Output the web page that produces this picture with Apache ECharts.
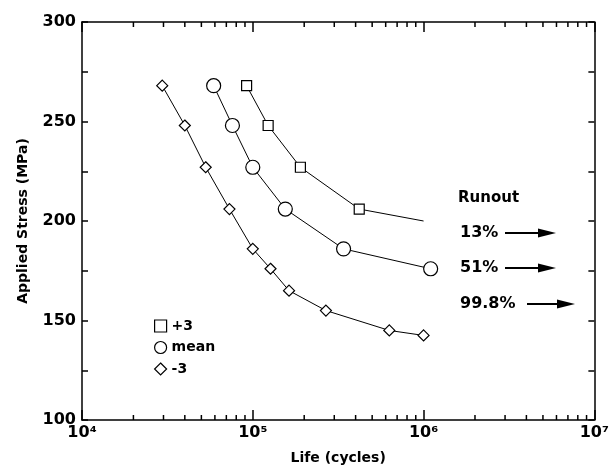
<!DOCTYPE html>
<html>
<head>
<meta charset="utf-8">
<script src="https://cdn.jsdelivr.net/npm/echarts@6/dist/echarts.min.js"></script>
<style>
  html, body { margin: 0; padding: 0; background: #fff; }
  #chart { width: 612px; height: 472px; }
</style>
</head>
<body>
<div id="chart"></div>
<script>
// S-N curves: life (cycles) vs applied stress (MPa)
const plusLife = [9.2e4, 1.23e5, 1.9e5, 4.2e5, 1.0e6];
const plusStress = [268, 248, 227, 206, 200];
const meanLife = [5.9e4, 7.6e4, 1.0e5, 1.55e5, 3.4e5, 1.1e6];
const meanStress = [268, 248, 227, 206, 186, 176];
const minusLife = [2.95e4, 4.0e4, 5.3e4, 7.3e4, 1.0e5, 1.27e5, 1.63e5, 2.68e5, 6.3e5, 1.0e6];
const minusStress = [268, 248, 227, 206, 186, 176, 165, 155, 145, 142.5];

const runoutLabels = ['13%', '51%', '99.8%'];

const minorX = [];
[1e4, 1e5, 1e6].forEach(d => {
  for (let k = 2; k <= 9; k++) minorX.push(k * d);
});

const FONT = 'DejaVu Sans';
const chart = echarts.init(document.getElementById('chart'));

const pair = (xs, ys) => xs.map((x, i) => [x, ys[i]]);
const plusData = pair(plusLife, plusStress).map((p, i) =>
  i === plusLife.length - 1 ? { value: p, symbol: 'none' } : p);

const sup = { 4: '⁴', 5: '⁵', 6: '⁶', 7: '⁷' };

const tickStyle = { color: '#000', width: 1.5 };
const frameLine = { show: true, onZero: false, lineStyle: { color: '#000', width: 1.5 } };

const xCommon = {
  type: 'log',
  min: 1e4,
  max: 1e7,
  splitLine: { show: false },
  axisLine: frameLine,
  axisTick: { show: true, inside: true, length: 10, lineStyle: tickStyle }
};

const yCommon = {
  type: 'value',
  min: 100,
  max: 300,
  interval: 25,
  splitLine: { show: false },
  axisLine: frameLine,
  axisTick: { show: true, inside: true, length: 6, lineStyle: tickStyle }
};

const option = {
  animation: false,
  grid: { left: 82, right: 13, top: 22, bottom: 52 },
  xAxis: [
    Object.assign({}, xCommon, {
      position: 'bottom',
      axisLabel: {
        margin: 5,
        fontFamily: FONT,
        fontWeight: 'bold',
        fontSize: 16,
        color: '#000',
        formatter: v => '10' + sup[Math.round(Math.log10(v))]
      },
      name: 'Life (cycles)',
      nameLocation: 'middle',
      nameGap: 31,
      nameTextStyle: { fontFamily: FONT, fontWeight: 'bold', fontSize: 14, color: '#000' }
    }),
    Object.assign({}, xCommon, {
      position: 'top',
      axisLabel: { show: false }
    })
  ],
  yAxis: [
    Object.assign({}, yCommon, {
      position: 'left',
      axisLabel: {
        margin: 6,
        fontFamily: FONT,
        fontWeight: 'bold',
        fontSize: 16,
        color: '#000',
        formatter: v => (v % 50 === 0 ? String(v) : '')
      },
      name: 'Applied Stress (MPa)',
      nameLocation: 'middle',
      nameGap: 52,
      nameTextStyle: { fontFamily: FONT, fontWeight: 'bold', fontSize: 14, color: '#000' }
    }),
    Object.assign({}, yCommon, {
      position: 'right',
      axisLabel: { show: false }
    })
  ],
  legend: {
    orient: 'vertical',
    left: 149,
    top: 314,
    itemGap: 7.5,
    itemWidth: 12,
    itemHeight: 12,
    textStyle: { fontFamily: FONT, fontWeight: 'bold', fontSize: 14, color: '#000' },
    itemStyle: { color: '#fff', borderColor: '#000', borderWidth: 1.2 },
    data: [
      { name: '+3', icon: 'rect' },
      { name: 'mean', icon: 'circle' },
      { name: '-3', icon: 'diamond' }
    ]
  },
  series: [
    {
      // minor log ticks (2..9 x 10^n) on bottom and top frame
      name: 'minor', type: 'custom', silent: true, clip: false,
      data: minorX.map(v => [v, 100]),
      renderItem: (params, api) => {
        const v = api.value(0);
        const b = api.coord([v, 100]);
        const t = api.coord([v, 300]);
        return {
          type: 'group',
          children: [
            { type: 'line', shape: { x1: b[0], y1: b[1], x2: b[0], y2: b[1] - 5 }, style: { stroke: '#000', lineWidth: 1.5 } },
            { type: 'line', shape: { x1: t[0], y1: t[1], x2: t[0], y2: t[1] + 5 }, style: { stroke: '#000', lineWidth: 1.5 } }
          ]
        };
      }
    },
    {
      name: '+3', type: 'line', data: plusData,
      symbol: 'rect', symbolSize: 10,
      itemStyle: { color: '#fff', borderColor: '#000', borderWidth: 1.2 },
      lineStyle: { color: '#000', width: 1 }
    },
    {
      name: 'mean', type: 'line', data: pair(meanLife, meanStress),
      symbol: 'circle', symbolSize: 14,
      itemStyle: { color: '#fff', borderColor: '#000', borderWidth: 1.2 },
      lineStyle: { color: '#000', width: 1 }
    },
    {
      name: '-3', type: 'line', data: pair(minusLife, minusStress),
      symbol: 'diamond', symbolSize: 11,
      itemStyle: { color: '#fff', borderColor: '#000', borderWidth: 1.2 },
      lineStyle: { color: '#000', width: 1 }
    }
  ]
};

// runout annotations
const textStyle = { fontFamily: FONT, fontWeight: 'bold', fontSize: 16, fill: '#000' };
const rows = [
  { y: 233, tx: 460, x1: 505, x2: 556 },
  { y: 268, tx: 460, x1: 505, x2: 556 },
  { y: 304, tx: 460, x1: 527, x2: 575 }
];
const graphics = [
  { type: 'text', left: 458, top: 191, style: Object.assign({}, textStyle, { text: 'Runout', fontSize: 15 }) }
];
rows.forEach((r, i) => {
  graphics.push({ type: 'text', left: r.tx, top: r.y - 8, style: Object.assign({ text: runoutLabels[i] }, textStyle) });
  graphics.push({ type: 'line', shape: { x1: r.x1, y1: r.y, x2: r.x2 - 14, y2: r.y }, style: { stroke: '#000', lineWidth: 2 } });
  graphics.push({ type: 'polygon', shape: { points: [[r.x2 - 18, r.y - 4.5], [r.x2, r.y], [r.x2 - 18, r.y + 4.5]] }, style: { fill: '#000' } });
});
option.graphic = graphics;

chart.setOption(option);
</script>
</body>
</html>
